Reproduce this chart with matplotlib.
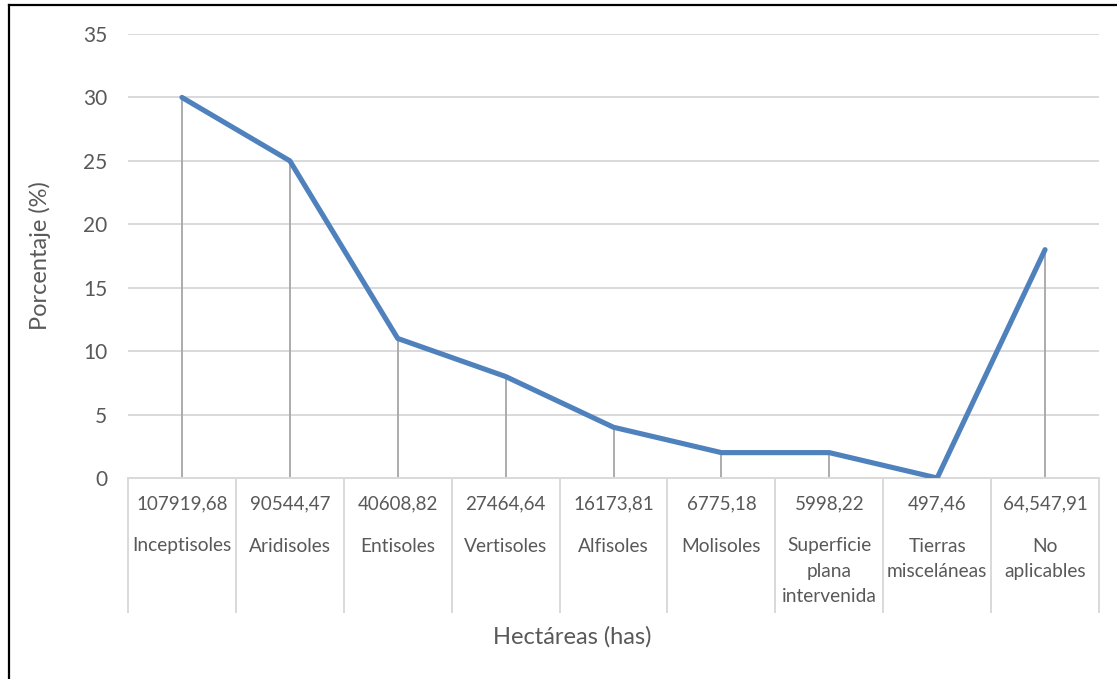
import matplotlib
matplotlib.use("Agg")
import matplotlib.pyplot as plt
from matplotlib.lines import Line2D

plt.rcParams['font.family'] = ['Lato', 'DejaVu Sans']

# Data
hectareas = ["107919,68", "90544,47", "40608,82", "27464,64", "16173,81",
             "6775,18", "5998,22", "497,46", "64,547,91"]
suelos = ["Inceptisoles", "Aridisoles", "Entisoles", "Vertisoles", "Alfisoles",
          "Molisoles", "Superficie\nplana\nintervenida", "Tierras\nmisceláneas",
          "No\naplicables"]
porcentaje = [30, 25, 11, 8, 4, 2, 2, 0, 18]
yticks = [0, 5, 10, 15, 20, 25, 30, 35]

W, H = 1117, 679
fig = plt.figure(figsize=(W / 100, H / 100), dpi=100)
left, right, top, bottom = 128, 1099, 34, 478
ax = fig.add_axes([left / W, 1 - bottom / H, (right - left) / W, (bottom - top) / H])

text_c = "#595959"
grid_c = "#d9d9d9"
drop_c = "#a6a6a6"
line_c = "#4f81bd"

n = len(porcentaje)
x = list(range(n))
ax.set_xlim(-0.5, n - 0.5)
ax.set_ylim(0, 35)

# Gridlines
for t in yticks[1:]:
    ax.axhline(t, color=grid_c, lw=1.4, zorder=0)

# Drop lines
ax.vlines(x, 0, porcentaje, color=drop_c, lw=1.3, zorder=1)

# Main series
ax.plot(x, porcentaje, color=line_c, lw=3.7, solid_capstyle='round',
        solid_joinstyle='round', zorder=3)

for s in ax.spines.values():
    s.set_visible(False)
ax.set_xticks([])
ax.set_yticks(yticks)
ax.tick_params(axis='y', length=0, pad=15, labelsize=15, labelcolor=text_c)

# Category axis: baseline and box separators
trans = ax.get_xaxis_transform()
ax_h = bottom - top
sep_depth = (612 - bottom) / ax_h
ax.plot([-0.5, n - 0.5], [0, 0], color=grid_c, lw=1.4, transform=trans,
        clip_on=False, zorder=2)
for b in [i - 0.5 for i in range(n + 1)]:
    ax.add_line(Line2D([b, b], [0, -sep_depth], color=grid_c, lw=1.4,
                       transform=trans, clip_on=False))

num_y = -(504 - bottom) / ax_h
for i in range(n):
    ax.text(i, num_y, hectareas[i], transform=trans, ha='center', va='center',
            fontsize=13.5, color=text_c)
    for k, part in enumerate(suelos[i].split("\n")):
        yy = -(546 + 25.5 * k - bottom) / ax_h
        ax.text(i, yy, part, transform=trans, ha='center', va='center',
                fontsize=13.8, color=text_c)

fig.text(572 / W, 1 - 637 / H, "Hectáreas (has)", ha='center', va='center',
         fontsize=17, color=text_c)
fig.text(40 / W, 1 - 256 / H, "Porcentaje (%)", ha='center', va='center',
         rotation=90, fontsize=17, color=text_c)

# Outer frame (left and top edges)
fig.add_artist(Line2D([8.5 / W, 8.5 / W], [0, 1 - 5 / H], color='black', lw=1.6,
                      transform=fig.transFigure))
fig.add_artist(Line2D([8.5 / W, 1], [1 - 5 / H, 1 - 5 / H], color='black', lw=1.6,
                      transform=fig.transFigure))

fig.savefig("out.png", dpi=100, facecolor='white')
